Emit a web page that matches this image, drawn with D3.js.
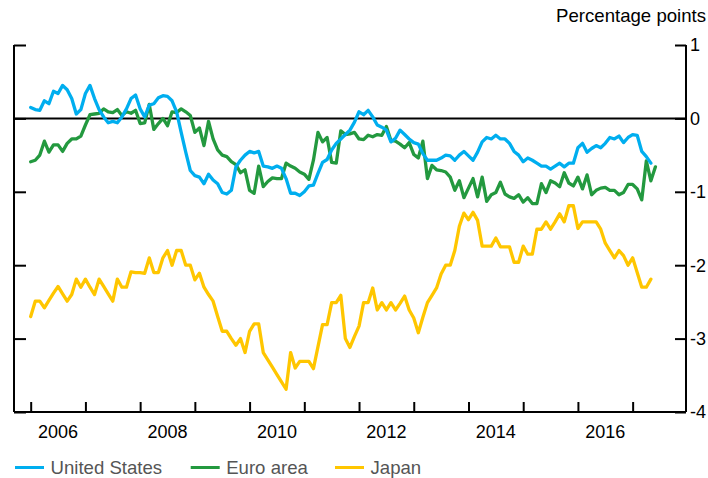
<!DOCTYPE html>
<html>
<head>
<meta charset="utf-8">
<script src="https://cdn.jsdelivr.net/npm/d3@7"></script>
<style>
  html, body { margin: 0; padding: 0; background: #fff; }
  svg { display: block; font-family: "Liberation Sans", Arial, Helvetica, sans-serif; }
</style>
</head>
<body>
<svg id="chart" width="708" height="478"></svg>
<script>
// ---- data (monthly, starting January 2006) ----
const startYear = 2006;
const seriesNames = ["United States", "Euro area", "Japan"];
const seriesColors = ["#00aeef", "#23993f", "#ffc600"];

const usValues = [
  0.15, 0.12, 0.11, 0.24, 0.20, 0.37, 0.34, 0.45, 0.39, 0.27,
  0.06, 0.12, 0.34, 0.45, 0.27, 0.12, 0.02, -0.06, -0.04, -0.06,
  0.02, 0.13, 0.27, 0.32, 0.13, 0.02, 0.18, 0.20, 0.28, 0.31,
  0.30, 0.24, 0.09, -0.19, -0.46, -0.71, -0.78, -0.80, -0.89, -0.76,
  -0.84, -0.89, -1.01, -1.03, -0.98, -0.66, -0.57, -0.50, -0.45, -0.47,
  -0.45, -0.65, -0.66, -0.68, -0.65, -0.68, -0.82, -1.02, -1.02, -1.05,
  -1.00, -0.92, -0.91, -0.75, -0.60, -0.56, -0.43, -0.34, -0.28, -0.22,
  -0.16, -0.05, 0.09, 0.05, 0.11, 0.02, -0.09, -0.12, -0.16, -0.32,
  -0.27, -0.16, -0.22, -0.28, -0.33, -0.35, -0.48, -0.57, -0.57, -0.57,
  -0.54, -0.50, -0.51, -0.57, -0.50, -0.45, -0.51, -0.57, -0.46, -0.32,
  -0.26, -0.28, -0.23, -0.28, -0.28, -0.34, -0.45, -0.50, -0.59, -0.54,
  -0.57, -0.61, -0.65, -0.65, -0.69, -0.65, -0.61, -0.66, -0.61, -0.61,
  -0.40, -0.34, -0.46, -0.41, -0.37, -0.40, -0.34, -0.26, -0.28, -0.24,
  -0.33, -0.26, -0.22, -0.23, -0.45, -0.52, -0.61
];

const euroValues = [
  -0.59, -0.57, -0.50, -0.31, -0.46, -0.36, -0.36, -0.45, -0.34, -0.28,
  -0.28, -0.24, -0.09, 0.05, 0.06, 0.07, 0.13, 0.09, 0.08, 0.12,
  0.04, 0.09, 0.07, 0.11, -0.07, -0.06, 0.19, -0.15, -0.07, 0.00,
  -0.10, 0.09, 0.08, 0.13, 0.09, 0.04, -0.19, -0.13, -0.37, -0.04,
  -0.28, -0.43, -0.50, -0.52, -0.59, -0.63, -0.74, -0.70, -0.98, -1.02,
  -0.65, -0.93, -0.86, -0.81, -0.82, -0.82, -0.61, -0.65, -0.68, -0.73,
  -0.76, -0.83, -0.57, -0.19, -0.32, -0.26, -0.60, -0.61, -0.17, -0.22,
  -0.21, -0.19, -0.28, -0.29, -0.23, -0.25, -0.22, -0.23, -0.11, -0.30,
  -0.31, -0.35, -0.40, -0.33, -0.49, -0.54, -0.31, -0.82, -0.64, -0.70,
  -0.71, -0.73, -0.80, -0.98, -0.85, -1.08, -0.95, -0.82, -1.07, -0.80,
  -1.13, -1.04, -1.01, -0.87, -1.03, -1.07, -1.09, -1.04, -1.14, -1.08,
  -1.16, -1.16, -0.89, -1.01, -0.85, -0.88, -0.93, -0.74, -0.88, -0.92,
  -0.80, -0.96, -0.77, -1.04, -0.98, -0.95, -0.94, -0.98, -0.98, -1.04,
  -1.01, -0.90, -0.90, -0.96, -1.11, -0.58, -0.85, -0.66
];

const japanValues = [
  -2.70, -2.49, -2.49, -2.58, -2.48, -2.38, -2.29, -2.39, -2.49, -2.40,
  -2.19, -2.30, -2.19, -2.30, -2.40, -2.19, -2.29, -2.39, -2.49, -2.19,
  -2.30, -2.30, -2.09, -2.10, -2.10, -2.11, -1.90, -2.10, -2.10, -1.90,
  -1.80, -2.00, -1.80, -1.80, -2.00, -2.00, -2.20, -2.11, -2.30, -2.40,
  -2.49, -2.70, -2.90, -2.90, -3.00, -3.09, -3.00, -3.19, -2.90, -2.80,
  -2.80, -3.19, -3.29, -3.39, -3.49, -3.59, -3.69, -3.19, -3.40, -3.31,
  -3.31, -3.31, -3.41, -3.11, -2.81, -2.81, -2.51, -2.51, -2.41, -3.00,
  -3.12, -2.97, -2.83, -2.51, -2.51, -2.31, -2.61, -2.51, -2.61, -2.51,
  -2.61, -2.52, -2.42, -2.61, -2.72, -2.92, -2.71, -2.51, -2.41, -2.31,
  -2.12, -2.00, -2.00, -1.80, -1.47, -1.29, -1.38, -1.28, -1.39, -1.74,
  -1.74, -1.74, -1.63, -1.75, -1.75, -1.75, -1.96, -1.96, -1.74, -1.85,
  -1.85, -1.51, -1.51, -1.41, -1.51, -1.41, -1.30, -1.41, -1.19, -1.19,
  -1.50, -1.41, -1.41, -1.41, -1.41, -1.51, -1.70, -1.80, -1.90, -1.80,
  -1.87, -2.00, -1.90, -2.10, -2.30, -2.30, -2.19
];

const yTicks = [1, 0, -1, -2, -3, -4];
const xTickYears = [2006, 2007, 2008, 2009, 2010, 2011, 2012, 2013, 2014, 2015, 2016, 2017];
const xLabelYears = [2006, 2008, 2010, 2012, 2014, 2016];
const unitLabel = "Percentage points";

// ---- layout ----
const svg = d3.select("#chart");
const plotLeft = 14, plotRight = 686, plotTop = 45, plotBottom = 412;

const x = d3.scaleLinear().domain([2005.695, 2017.975]).range([plotLeft, plotRight]);
const y = d3.scaleLinear().domain([-4, 1]).range([plotBottom, plotTop]);

const seriesValues = [usValues, euroValues, japanValues];
const series = seriesNames.map((name, k) => ({
  name, color: seriesColors[k],
  points: seriesValues[k].map((v, i) => ({ t: startYear + i / 12, v }))
}));

// zero line
svg.append("line")
  .attr("x1", plotLeft).attr("x2", plotRight)
  .attr("y1", y(0)).attr("y2", y(0))
  .attr("stroke", "#000").attr("stroke-width", 2);

// lines (Japan, Euro, US on top)
const line = d3.line().x(d => x(d.t)).y(d => y(d.v));
[2, 1, 0].forEach(k => {
  svg.append("path")
    .datum(series[k].points)
    .attr("d", line)
    .attr("fill", "none")
    .attr("stroke", series[k].color)
    .attr("stroke-width", 3.3)
    .attr("stroke-linejoin", "round")
    .attr("stroke-linecap", "round");
});

// left axis (ticks inward, no labels)
const leftAxis = d3.axisRight(y).tickValues(yTicks).tickSize(12).tickFormat("");
const gl = svg.append("g").attr("transform", `translate(${plotLeft},0)`).call(leftAxis);

// right axis (ticks inward, labels outside)
const rightAxisTicks = d3.axisLeft(y).tickValues(yTicks).tickSize(11).tickFormat("");
const gr = svg.append("g").attr("transform", `translate(${plotRight},0)`).call(rightAxisTicks);
svg.append("g").selectAll("text").data(yTicks).join("text")
  .attr("x", plotRight + 4)
  .attr("y", d => y(d))
  .attr("dy", "0.36em")
  .attr("font-size", 18)
  .attr("fill", "#000")
  .text(d => d);

// bottom axis (ticks inward)
const bottomAxis = d3.axisTop(x).tickValues(xTickYears).tickSize(10).tickFormat("");
const gb = svg.append("g").attr("transform", `translate(0,${plotBottom})`).call(bottomAxis);
svg.append("g").selectAll("text").data(xLabelYears).join("text")
  .attr("x", d => x(d + 0.5))
  .attr("y", plotBottom + 25.5)
  .attr("text-anchor", "middle")
  .attr("font-size", 18)
  .attr("fill", "#000")
  .text(d => d);

[gl, gr, gb].forEach(g => {
  g.select(".domain").attr("stroke", "#000").attr("stroke-width", 2);
  g.selectAll(".tick line").attr("stroke", "#000").attr("stroke-width", 2);
});
gl.select(".domain").attr("d", `M0,${plotTop}V${plotBottom}`);
gr.select(".domain").attr("d", `M0,${plotTop}V${plotBottom}`);
gb.select(".domain").attr("d", `M${plotLeft},0H${plotRight}`);

// unit label
svg.append("text")
  .attr("x", 706).attr("y", 22)
  .attr("text-anchor", "end")
  .attr("font-size", 18.6)
  .attr("fill", "#000")
  .text(unitLabel);

// legend
const legendX = [15, 190.7, 335];
const legend = svg.append("g");
series.forEach((s, k) => {
  legend.append("line")
    .attr("x1", legendX[k]).attr("x2", legendX[k] + 29)
    .attr("y1", 467.5).attr("y2", 467.5)
    .attr("stroke", s.color).attr("stroke-width", 3);
  legend.append("text")
    .attr("x", legendX[k] + 35.5).attr("y", 473.5)
    .attr("font-size", 18.6)
    .attr("fill", "#555")
    .text(s.name);
});
</script>
</body>
</html>
